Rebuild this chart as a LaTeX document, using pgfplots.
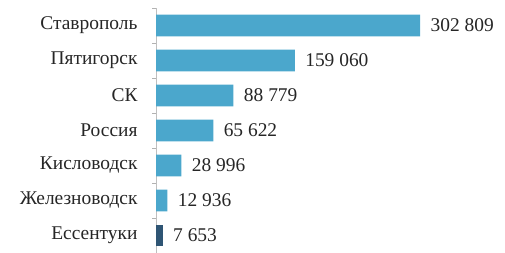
\documentclass[border=0pt]{standalone}
\usepackage{pgfplots}
\pgfplotsset{compat=1.18}
\usepackage{fontspec}
\setmainfont{Liberation Serif}
\definecolor{barblue}{HTML}{4BA7CC}
\definecolor{bardark}{HTML}{2F5574}
\begin{document}
\begin{tikzpicture}
\path[use as bounding box] (0,0) rectangle (505bp,253bp);
\begin{axis}[
  at={(156bp,0bp)}, anchor=south west,
  scale only axis, width=349bp, height=245bp,
  xmin=0, xmax=400000, ymin=-0.5, ymax=6.5,
  axis x line=none,
  axis y line*=left,
  y axis line style={draw=gray!50},
  ytick={-0.5,0.5,...,6.5},
  yticklabels={Ессентуки,Железноводск,Кисловодск,Россия,СК,Пятигорск,Ставрополь,{}},
  major tick length=4bp,
  tick align=outside,
  y tick style={draw=gray!60},
  yticklabel style={font=\fontsize{19.5}{20}\selectfont, text=black!85, xshift=-11bp, yshift=17.5bp},
  xbar, bar width=0.62, bar shift=0pt,
  point meta=explicit symbolic,
  nodes near coords,
  every node near coord/.append style={font=\fontsize{19.5}{20}\selectfont, text=black!85, anchor=west, xshift=7bp},
  clip=false,
]
\addplot[draw=none, fill=barblue] coordinates {
  (302809,6) [302 809]
  (159060,5) [159 060]
  (88779,4) [88 779]
  (65622,3) [65 622]
  (28996,2) [28 996]
  (12936,1) [12 936]
};
\addplot[draw=none, fill=bardark] coordinates {
  (7653,0) [7 653]
};
\end{axis}
\end{tikzpicture}
\end{document}
